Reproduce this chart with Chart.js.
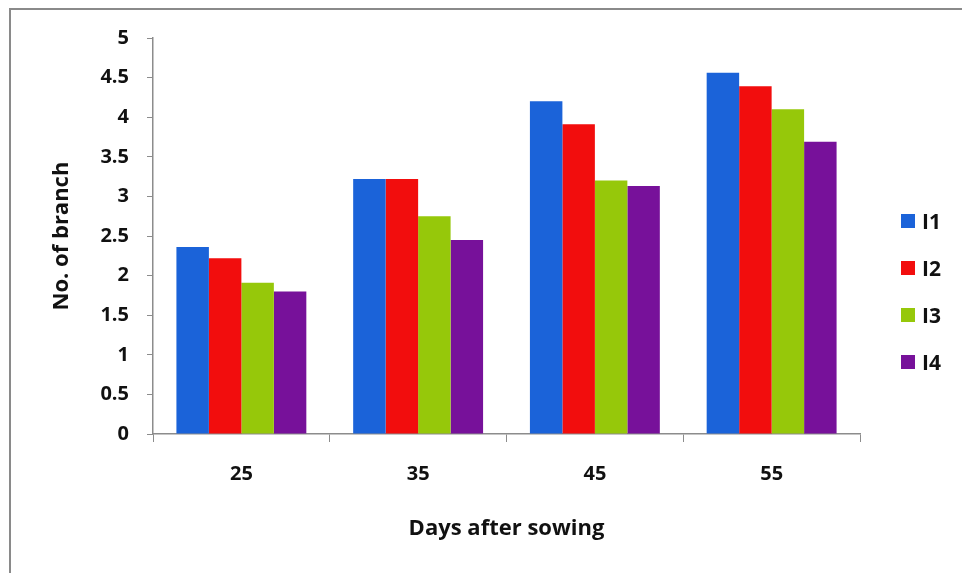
<!DOCTYPE html>
<html>
<head>
<meta charset="utf-8">
<script src="https://cdn.jsdelivr.net/npm/chart.js@4.4.1/dist/chart.umd.min.js"></script>
<style>
  html, body { margin: 0; padding: 0; background: #fff; }
  #wrap { position: relative; width: 962px; height: 573px; }
  #frame { position: absolute; left: 9px; top: 8px; width: 960px; height: 570px; border-left: 2px solid #8a8a8a; border-top: 2px solid #8a8a8a; box-sizing: border-box; pointer-events: none; }
  #legend { position: absolute; left: 901px; top: 197px; font-family: "Open Sans", Lato, sans-serif; font-weight: bold; font-size: 21px; color: #111; }
  .item { display: flex; align-items: center; height: 47px; }
  .box { width: 14px; height: 14px; margin-right: 7px; }
</style>
</head>
<body>
<div id="wrap">
  <canvas id="c" width="962" height="573"></canvas>
  <div id="frame"></div>
  <div id="legend"></div>
</div>
<script>
const categories = ['25', '35', '45', '55'];
const seriesNames = ['I1', 'I2', 'I3', 'I4'];
const I1 = [2.36, 3.22, 4.20, 4.56];
const I2 = [2.22, 3.22, 3.91, 4.39];
const I3 = [1.91, 2.75, 3.20, 4.10];
const I4 = [1.80, 2.45, 3.13, 3.69];
const yTicks = [0, 0.5, 1, 1.5, 2, 2.5, 3, 3.5, 4, 4.5, 5];
const colors = ['#1b63d9', '#f20d0d', '#96c80a', '#77119a'];
const seriesValues = [I1, I2, I3, I4];

const fam = '"Open Sans", Lato, sans-serif';
const tickFont = { family: fam, weight: 'bold', size: 20 };
const titleFont = { family: fam, weight: 'bold', size: 22 };

const chart = new Chart(document.getElementById('c'), {
  type: 'bar',
  data: {
    labels: categories,
    datasets: seriesNames.map((n, i) => ({
      label: n,
      data: seriesValues[i],
      backgroundColor: colors[i],
      borderWidth: 0,
      barPercentage: 1.0,
      categoryPercentage: 0.735
    }))
  },
  options: {
    responsive: false,
    animation: false,
    devicePixelRatio: 1,
    layout: { padding: { left: 0, top: 38, right: 102, bottom: 0 } },
    plugins: { legend: { display: false }, tooltip: { enabled: false } },
    scales: {
      x: {
        grid: { drawOnChartArea: false, drawTicks: true, tickLength: 8, color: '#8c8c8c', offset: true },
        border: { display: true, color: '#8c8c8c', width: 1.5 },
        ticks: { color: '#111', font: tickFont, padding: 20 },
        title: { display: true, text: 'Days after sowing', color: '#111', font: titleFont, padding: { top: 0, bottom: 31 } },
        afterFit: s => { s.height = 139; }
      },
      y: {
        min: 0, max: 5,
        afterBuildTicks: s => { s.ticks = yTicks.map(v => ({ value: v })); },
        grid: { drawOnChartArea: false, drawTicks: true, tickLength: 6, color: '#8c8c8c' },
        border: { display: true, color: '#8c8c8c', width: 1.5 },
        ticks: { color: '#111', font: tickFont, padding: 18, callback: v => String(v) },
        title: { display: true, text: 'No. of branch', color: '#111', font: titleFont, padding: { top: 49, bottom: 0 } },
        afterFit: s => { s.width = 153; }
      }
    }
  }
});

const lg = document.getElementById('legend');
chart.data.datasets.forEach(ds => {
  const d = document.createElement('div');
  d.className = 'item';
  const b = document.createElement('span');
  b.className = 'box';
  b.style.background = ds.backgroundColor;
  const t = document.createElement('span');
  t.textContent = ds.label;
  d.appendChild(b); d.appendChild(t);
  lg.appendChild(d);
});
</script>
</body>
</html>
